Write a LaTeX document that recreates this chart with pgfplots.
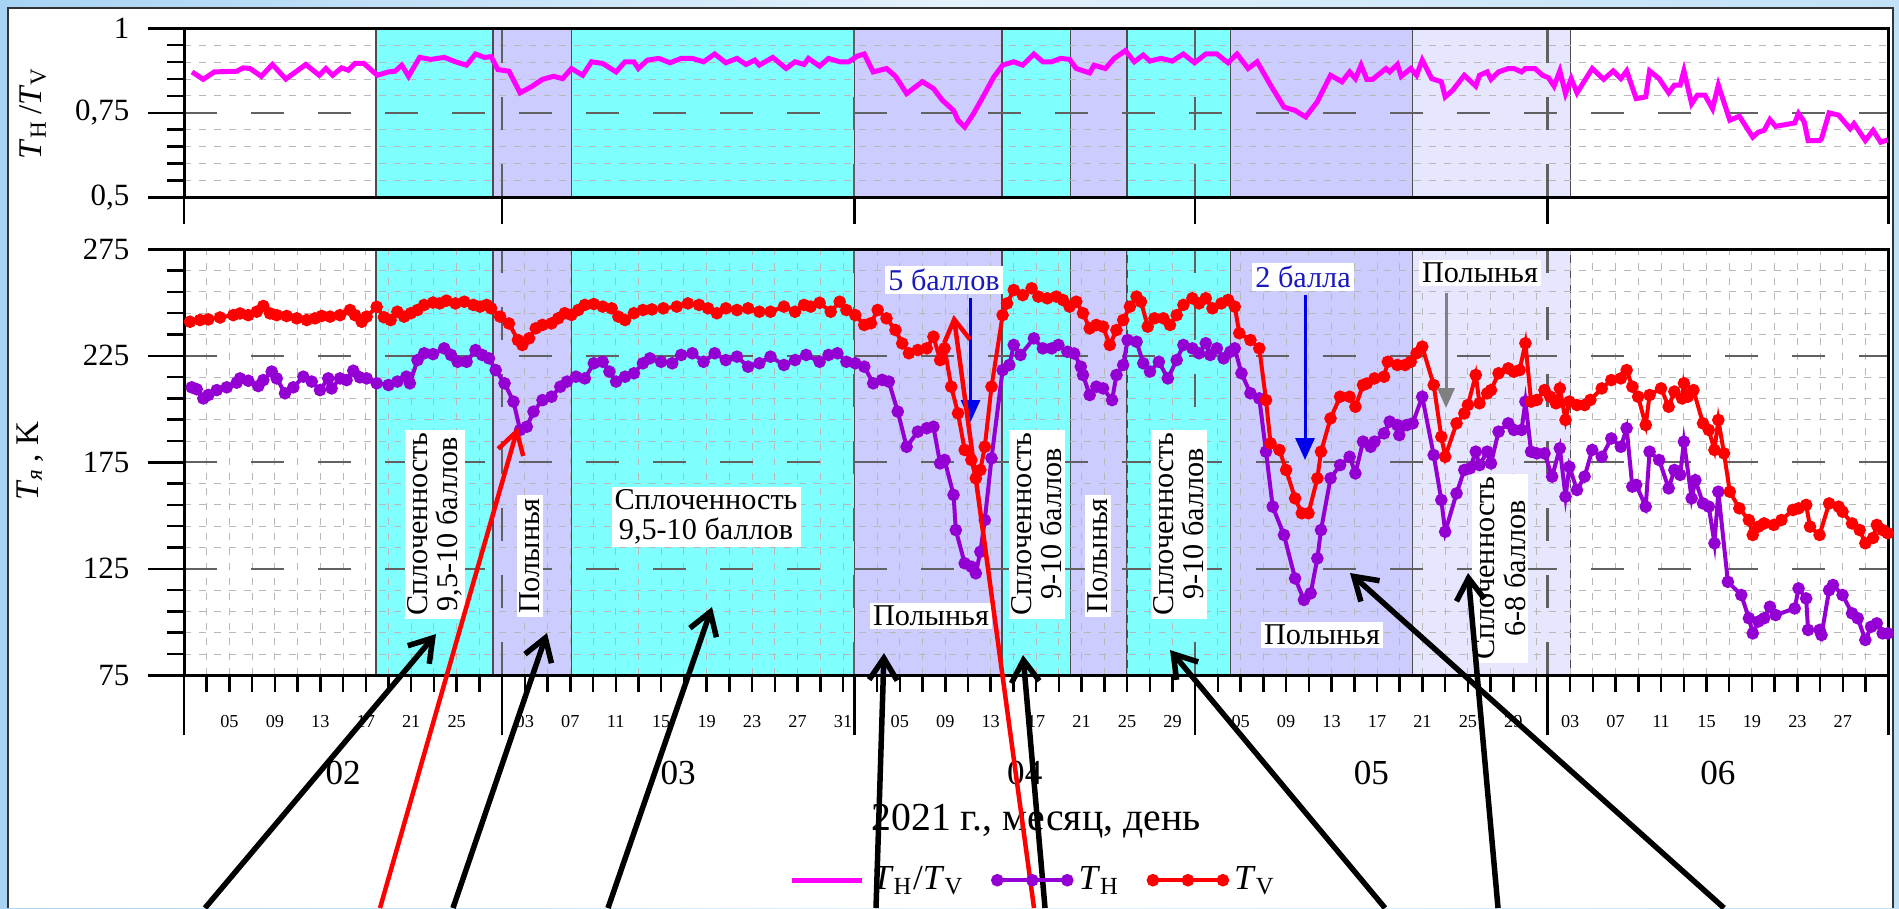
\documentclass[border=0pt]{standalone}
\usepackage{fontspec}
\setmainfont{Liberation Serif}
\usepackage{pgfplots}
\pgfplotsset{compat=1.18}
\usetikzlibrary{arrows.meta}

\definecolor{cyanreg}{RGB}{128,255,255}
\definecolor{purpreg}{RGB}{204,204,255}
\definecolor{lpurpreg}{RGB}{230,230,255}
\definecolor{tvc}{RGB}{255,0,0}
\definecolor{thc}{RGB}{148,0,211}
\definecolor{ratioc}{RGB}{255,0,255}
\definecolor{bluetxt}{RGB}{25,25,190}
\definecolor{bluearr}{RGB}{0,0,235}
\definecolor{bgl}{RGB}{168,212,244}
\definecolor{bgm}{RGB}{228,242,252}
\definecolor{bgr}{RGB}{192,225,247}

\newcommand\oneregion[3]{%
\addplot[forget plot, on layer=axis background, fill=#1, draw=black!70, line width=0.12mm]
 coordinates {(#2,\rymin)(#2,\rymax)(#3,\rymax)(#3,\rymin)(#2,\rymin)};}
\newcommand\regions{%
\oneregion{cyanreg}{16.9}{27.2}%
\oneregion{purpreg}{27.2}{34.1}%
\oneregion{cyanreg}{34.1}{59}%
\oneregion{purpreg}{59}{72}%
\oneregion{cyanreg}{72}{78}%
\oneregion{purpreg}{78}{83}%
\oneregion{cyanreg}{83}{92.1}%
\oneregion{purpreg}{92.1}{108.1}%
\oneregion{lpurpreg}{108.1}{122}}

\pgfplotsset{
  base/.style={
    scale only axis, width=170.43mm, xmin=0, xmax=150, clip=false,
    axis line style={line width=0.3mm, black},
    tick align=outside, tick pos=left,
    major tick length=3.6mm, minor tick length=1.7mm,
    tick style={black, line width=0.25mm},
    minor xtick={2,4,6,8,10,12,14,16,18,20,22,24,26,30,32,34,36,38,40,42,44,46,48,50,52,54,56,58,61,63,65,67,69,71,73,75,77,79,81,83,85,87,91,93,95,97,99,101,103,105,107,109,111,113,115,117,119,122,124,126,128,130,132,134,136,138,140,142,144,146,148},
    minor y tick num=4,
    xmajorgrids=false, xminorgrids=true, ymajorgrids=true, yminorgrids=true,
    major grid style={dash pattern=on 3.3mm off 3.4mm, black!62, line width=0.22mm},
    minor grid style={dash pattern=on 0.7mm off 0.8mm, black!28, line width=0.1mm},
    extra x ticks={0,28,59,89,120,150},
    extra x tick labels={},
    yticklabel style={font=\fontsize{8.8}{9}\selectfont, inner sep=0pt, xshift=-1.8mm},
  },
}

\begin{document}
\begin{tikzpicture}
\pgfplotsset{set layers}
\begin{pgfonlayer}{axis background}
\begin{scope}[x=0.1mm,y=-0.1mm]
\shade[left color=bgl, right color=bgr, middle color=bgm] (0,0) rectangle (1899,908);
\fill[white] (8,8) rectangle (1893,908);
\draw[black!80, line width=0.25mm] (8,908) -- (8,8) -- (1893,8) -- (1893,908);
\end{scope}
\end{pgfonlayer}

% ---------------- top panel: ratio
\begin{axis}[base, at={(18.4mm,-19.73mm)}, anchor=south west, height=16.9mm,
  ymin=0.5, ymax=1, ytick={0.5,0.75,1}, yticklabels={{0,5},{0,75},{1}},
  xtick=\empty,
  extra x tick style={major tick length=2.7mm, grid=major}]
\def\rymin{0.5}\def\rymax{1}
\regions
\addplot[ratioc, line width=0.5mm] coordinates {
(0.71,0.871)(1.69,0.849)(2.67,0.871)(4.64,0.873)(5.22,0.883)(5.81,0.881)(6.8,0.858)(7.78,0.893)(8.96,0.850)(10.72,0.893)(11.9,0.861)(12.49,0.881)(13.08,0.861)(13.87,0.883)(14.46,0.876)(15.05,0.896)(15.83,0.896)(17.01,0.861)(17.99,0.871)(18.58,0.873)(19.17,0.891)(19.76,0.858)(20.74,0.914)(21.73,0.908)(22.91,0.914)(23.89,0.901)(24.87,0.891)(25.66,0.924)(26.44,0.914)(27.03,0.916)(27.62,0.878)(28.6,0.873)(29.58,0.809)(30.57,0.827)(31.55,0.849)(32.53,0.858)(33.32,0.851)(34.1,0.881)(35.09,0.861)(35.87,0.901)(36.85,0.896)(38.03,0.871)(38.82,0.901)(39.6,0.901)(39.99,0.881)(40.79,0.906)
(41.8,0.911)(42.78,0.898)(43.76,0.911)(44.74,0.911)(45.73,0.901)(46.71,0.924)(47.69,0.898)(48.67,0.911)(49.46,0.893)(50.24,0.906)(50.64,0.891)(51.82,0.914)(53.0,0.881)(53.78,0.901)(54.57,0.893)(54.96,0.911)(55.94,0.888)(56.73,0.911)(57.71,0.901)(58.5,0.901)(59.28,0.918)(59.87,0.924)(60.66,0.871)(61.83,0.881)(62.62,0.858)(63.6,0.807)(64.98,0.842)(65.96,0.822)(66.75,0.787)(67.73,0.757)(68.12,0.728)(68.71,0.708)(69.5,0.748)(70.48,0.807)(71.27,0.856)(72.05,0.891)(73.03,0.901)(73.82,0.891)(74.8,0.924)(75.59,0.901)(76.37,0.901)(77.16,0.911)(77.94,0.908)(78.53,0.881)(79.71,0.868)(80.1,0.891)(81.09,0.881)(81.87,0.911)(82.86,0.934)(83.64,0.901)(84.43,0.921)(85.02,0.903)(86.0,0.911)(86.98,0.903)(87.96,0.924)(88.95,0.898)(89.93,0.924)(90.91,0.924)(91.89,0.898)(92.68,0.924)(93.66,0.881)(94.45,0.901)(95.63,0.832)(96.81,0.767)(97.79,0.757)
(98.22,0.748)(98.72,0.738)(99.73,0.782)(100.91,0.861)(101.92,0.842)(102.59,0.871)(103.1,0.851)(103.6,0.891)(104.1,0.849)(104.61,0.849)(105.79,0.881)(106.12,0.871)(106.79,0.893)(107.13,0.858)(107.97,0.881)(108.48,0.861)(108.98,0.906)(109.82,0.851)(110.66,0.842)(111.0,0.797)(111.67,0.817)(112.68,0.861)(113.69,0.829)(114.02,0.861)(114.7,0.871)(115.03,0.849)(115.7,0.871)(116.55,0.881)(117.05,0.881)(117.72,0.871)(118.06,0.881)(118.9,0.881)(119.57,0.861)(120.08,0.854)(120.58,0.829)(121.09,0.874)(121.59,0.807)(122.09,0.851)(122.6,0.809)(123.94,0.881)(124.95,0.849)(125.79,0.874)(126.46,0.851)(126.97,0.874)(127.81,0.792)(128.65,0.797)(128.99,0.874)(129.83,0.851)(130.67,0.809)(131.17,0.832)(131.68,0.832)(132.01,0.874)(132.69,0.777)(133.19,0.802)(133.86,0.802)(134.53,0.762)(135.04,0.832)(136.05,0.728)(136.89,0.740)(138.07,0.678)(138.57,0.693)(139.07,0.698)(139.58,0.730)(140.08,0.710)(141.76,0.720)(142.1,0.748)(142.6,0.723)(142.94,0.668)(143.95,0.668)(144.12,0.673)(144.79,0.750)(145.63,0.743)(146.64,0.703)(146.98,0.718)(147.98,0.668)(148.66,0.698)(149.33,0.663)(149.95,0.670)};
\end{axis}

% ---------------- bottom panel: temperatures
\begin{axis}[base, at={(18.4mm,-67.53mm)}, anchor=south west, height=42.6mm,
  ymin=75, ymax=275, ytick={75,125,175,225,275}, yticklabels={75,125,175,225,275},
  xtick={4,8,12,16,20,24,30,34,38,42,46,50,54,58,63,67,71,75,79,83,87,93,97,101,105,109,113,117,122,126,130,134,138,142,146},
  xticklabels={05,09,13,17,21,25,03,07,11,15,19,23,27,31,05,09,13,17,21,25,29,05,09,13,17,21,25,29,03,07,11,15,19,23,27},
  major x tick style={draw=none},
  xticklabel style={font=\fontsize{5.2}{6}\selectfont, inner sep=0pt, yshift=-0.3mm},
  extra x tick style={major tick length=6mm, grid=major, major x tick style={draw=black}},
  legend style={at={(0.5,-0.481)}, anchor=center, draw=none, fill=none,
    font=\fontsize{10}{11}\selectfont, legend columns=3,
    /tikz/every even column/.append style={column sep=2.2mm}},
  legend cell align=left,
  legend image code/.code={\draw[#1, mark repeat=1] plot coordinates {(0mm,0mm)(3.5mm,0mm)(7mm,0mm)};}]
\def\rymin{75}\def\rymax{275}
\regions
\addlegendimage{ratioc, line width=0.5mm}
\addlegendentry{\textit{T}\textsubscript{Н}/\textit{T}\textsubscript{V}}
\addplot[thc, line width=0.4mm, mark=*, mark size=0.42mm] coordinates {
(0.68,210.2)(1.12,209.3)(1.7,205.0)(2.14,206.6)(2.88,208.9)(3.76,210.2)(4.64,212.4)(4.93,214.4)(5.66,213.3)(6.54,210.8)(6.98,213.6)(7.72,217.6)(8.16,214.4)(8.89,207.4)(9.62,210.2)(10.5,215.2)(11.24,212.9)(11.97,208.9)(12.7,214.4)(12.99,209.7)(13.73,214.4)(14.31,213.6)(14.9,218.0)(15.48,214.9)(16.08,214.4)(16.96,212.1)
(18.0,211.3)(18.78,212.9)(19.57,215.2)(19.88,212.1)(20.55,223.0)(21.14,226.2)(21.92,225.8)(22.9,228.5)(23.5,225.4)(24.08,222.2)(24.87,222.2)(25.66,227.7)(26.25,225.4)(26.84,223.8)(27.43,218.3)(28.21,212.1)(29.0,203.5)(29.58,190.2)(30.17,191.7)(30.76,198.8)(31.55,204.2)(32.34,205.8)(33.12,210.5)(33.71,212.9)(34.5,215.2)(35.28,214.4)(36.07,221.5)(36.85,222.2)(37.44,217.6)(38.03,212.9)(38.82,215.2)(39.6,216.8)(40.39,221.5)
(41.0,223.8)(41.99,222.2)(42.97,221.5)(43.76,225.4)(44.74,226.2)(45.73,222.2)(46.71,226.2)(47.69,223.0)(48.67,224.6)(49.65,219.9)(50.64,221.5)(51.62,224.6)(52.8,220.7)(53.78,223.0)(54.76,225.4)(55.94,222.2)(56.73,225.4)(57.51,226.2)(58.3,222.2)(59.08,221.5)(59.87,219.9)(60.66,212.1)(61.44,213.7)(62.03,212.9)(62.82,198.8)(63.6,182.3)(64.59,189.4)(65.37,191.0)(65.96,191.7)(66.55,174.5)(66.94,176.1)(67.73,159.7)(67.93,143.2)(68.71,127.6)(69.3,126.0)(69.69,122.9)(70.09,133.0)(70.48,147.9)(71.07,176.9)(72.05,218.3)(72.64,220.7)(73.03,230.1)(73.62,225.4)(74.8,233.2)(75.59,228.5)(76.37,228.5)(76.96,230.1)(77.75,226.9)(78.34,226.1)(78.93,219.9)(79.12,216.0)(79.71,206.6)(80.3,210.5)(80.89,209.7)(81.68,204.2)(82.07,216.0)(82.66,220.7)(83.05,232.4)(83.84,231.6)(84.43,221.5)(85.02,217.6)(85.8,222.2)(86.59,214.4)(87.37,223.0)(87.96,230.1)(88.75,228.5)(89.34,226.2)(89.93,230.9)(90.32,225.4)(90.91,228.5)(91.5,223.8)(92.09,226.9)(92.48,228.5)(93.07,216.8)(93.86,207.4)(94.64,205.0)(95.23,180.0)(95.82,154.2)(96.81,140.9)(97.79,120.5)(98.57,110.4)(99.16,113.5)(99.75,129.9)
(100.07,143.2)(100.91,167.5)(101.75,173.7)(102.59,177.6)(103.1,169.8)(103.77,184.7)(104.44,182.3)(104.78,184.7)(105.62,188.6)(106.12,194.1)(106.79,192.5)(106.96,187.8)(107.63,192.5)(108.14,193.3)(108.98,205.8)(109.99,178.4)(110.66,157.3)(111.0,142.4)(112.0,160.4)(112.68,171.4)(113.18,172.2)(113.69,180.0)(114.02,173.7)(114.7,180.0)(115.03,174.5)(115.7,189.4)(116.55,193.3)(117.05,190.2)(117.72,190.2)(118.06,203.5)(118.56,180.0)(119.07,179.2)(119.74,179.2)(120.41,168.3)(121.09,181.6)(121.59,158.9)(121.93,172.9)(122.6,162.0)(123.27,168.3)(123.94,180.8)(124.78,177.6)(125.62,186.2)(126.46,182.3)(126.97,191.0)(127.47,163.6)(127.81,164.4)(128.65,154.2)(128.99,180.0)(129.83,176.1)(130.67,162.8)(131.17,171.4)(131.68,169.1)(132.01,184.7)(132.69,158.1)(133.02,166.6)(133.69,155.7)(134.2,154.2)(134.7,137.0)(135.04,161.2)(135.88,118.9)(137.06,112.7)(137.73,101.8)(138.07,94.7)(138.57,100.3)(139.07,101.8)(139.58,107.2)(140.08,103.3)(141.76,106.4)(142.1,115.8)(142.77,111.1)(142.94,96.3)(143.95,96.3)(144.12,93.9)(144.79,115.0)(145.13,117.4)(145.97,112.7)(146.81,104.1)(147.31,101.8)(147.98,91.6)(148.49,97.8)(148.99,99.4)(149.5,94.7)(149.95,94.7)};
\addlegendentry{\textit{T}\textsubscript{Н}}
\addplot[tvc, line width=0.4mm, mark=*, mark size=0.42mm] coordinates {
(0.53,241.0)(1.41,241.8)(2.14,242.1)(3.17,243.0)(4.34,244.1)(4.93,244.9)(5.66,244.1)(6.4,245.7)(6.98,248.4)(7.57,244.9)(8.16,244.1)(9.04,243.7)(9.92,242.6)(10.8,241.8)(11.53,242.6)(12.12,243.7)(12.85,243.4)(13.73,244.1)(14.61,246.5)(15.05,244.1)(15.64,241.0)(16.08,243.4)(16.96,248.0)
(17.6,243.1)(18.19,241.8)(18.78,245.7)(19.37,243.4)(19.96,245.0)(20.55,246.5)(21.14,248.9)(21.92,250.0)(22.51,249.6)(23.1,250.9)(23.89,249.6)(24.67,250.4)(25.46,248.9)(26.05,248.1)(26.64,248.9)(27.03,247.3)(27.82,243.4)(28.6,240.2)(29.39,232.4)(29.78,230.1)(30.37,233.2)(30.96,237.9)(31.55,239.5)(32.34,240.2)(32.93,242.6)(33.51,245.0)(34.1,244.2)(34.7,246.5)(35.28,248.9)(36.07,249.3)(36.85,248.1)(37.64,247.3)(38.23,243.4)(38.82,241.8)(39.6,245.0)(40.39,246.5)(41.18,246.8)
(42.19,247.3)(43.37,248.1)(44.35,249.6)(45.33,248.9)(46.12,247.3)(46.9,245.0)(47.69,247.3)(48.67,246.5)(49.65,247.3)(50.64,245.7)(51.62,245.7)(52.8,248.1)(53.78,245.7)(54.57,248.9)(55.16,248.1)(55.94,249.9)(56.92,245.7)(57.71,250.4)(58.3,246.5)(59.08,244.1)(59.87,239.5)(60.46,240.3)(61.05,246.5)(61.83,242.6)(62.62,237.1)(63.21,230.8)(63.8,226.2)(64.58,227.7)(65.37,228.5)(65.96,234.0)(66.55,223.0)(66.94,228.5)(67.53,210.5)(68.12,198.0)(68.71,180.8)(69.3,176.1)(69.69,167.5)(70.09,171.4)(70.48,182.3)(71.07,210.5)(72.05,244.1)(72.44,249.6)(73.03,255.9)(73.82,253.5)(74.6,256.7)(75.19,252.8)(75.98,252.0)(76.77,252.8)(77.36,251.2)(77.94,248.1)(78.53,250.4)(79.12,245.0)(79.71,237.9)(80.3,239.5)(80.89,238.7)(81.48,230.1)(82.07,237.1)(82.66,241.8)(83.25,248.1)(83.84,252.8)(84.23,250.4)(84.82,238.7)(85.41,242.6)(86.2,242.6)(86.78,239.5)(87.37,244.1)(87.96,248.9)(88.75,252.0)(89.34,249.6)(89.93,252.0)(90.52,247.3)(91.3,249.6)(91.89,251.2)(92.48,248.1)(92.88,235.6)(93.86,232.4)(94.64,228.5)(95.23,204.2)(95.63,183.9)(96.41,180.8)(97.0,171.4)(97.79,158.1)(98.38,151.1)(98.97,151.1)(99.75,167.5)
(100.07,180.0)(100.91,195.6)(101.75,205.8)(102.59,205.8)(103.1,201.1)(103.77,211.3)(104.1,212.0)(104.78,214.4)(105.62,215.2)(105.95,222.2)(106.79,220.7)(107.47,220.7)(107.97,222.2)(108.48,226.2)(108.98,229.3)(109.99,211.3)(110.66,187.0)(111.0,177.6)(112.0,193.3)(112.68,198.0)(113.0,201.9)(113.69,216.0)(114.02,202.7)(114.7,207.4)(115.03,208.9)(115.7,216.8)(116.55,219.1)(117.05,217.5)(117.55,218.3)(118.06,230.9)(118.56,203.5)(119.07,204.3)(119.74,208.9)(120.24,205.8)(120.75,202.7)(121.09,209.7)(121.59,194.9)(121.93,203.5)(122.6,201.9)(123.27,201.9)(123.78,204.3)(124.78,209.7)(125.62,213.6)(126.46,214.4)(126.97,218.3)(127.47,210.5)(127.98,205.8)(128.65,192.5)(128.99,206.6)(130.0,209.7)(130.67,201.1)(131.17,208.2)(131.85,205.0)(132.01,212.1)(132.35,205.8)(132.85,208.9)(133.69,193.3)(134.2,190.2)(134.7,180.8)(135.04,194.9)(135.54,179.2)(136.05,161.2)(136.89,153.4)(137.73,147.9)(138.07,140.9)(138.57,144.8)(139.07,146.3)(139.92,145.6)(140.59,147.9)(141.6,152.6)(142.1,153.4)(142.77,155.0)(143.11,144.8)(143.95,140.9)(144.79,155.7)(145.63,154.2)(145.97,151.8)(146.81,146.3)(147.48,143.2)(147.98,137.0)(148.66,139.5)(148.99,145.6)(149.5,143.2)(149.95,141.7)};
\addlegendentry{\textit{T}\textsubscript{V}}
\end{axis}

% ---------------- annotations (pixel coordinates of the figure)
\begin{scope}[x=0.1mm,y=-0.1mm]
\tikzset{tbox/.style={fill=white, inner sep=0.3mm, font=\fontsize{8.6}{8.6}\selectfont, align=center},
  blk/.style={draw=black, line width=0.55mm, -{Straight Barb[length=2.2mm,width=2.8mm]}},
  redl/.style={draw=tvc, line width=0.45mm, -{Straight Barb[length=2.2mm,width=2.6mm]}}}
\node[rotate=90, font=\fontsize{9.4}{10}\selectfont] at (33,113) {\textit{T}\textsubscript{Н}\,/\textit{T}\textsubscript{V}};
\node[rotate=90, font=\fontsize{9.4}{10}\selectfont] at (30,461) {\textit{T}\textsubscript{\textit{я}}\,, K};
\foreach \xx/\mm in {343.1/02, 678.2/03, 1024.8/04, 1371.3/05, 1717.9/06}
  \node[font=\fontsize{10}{11}\selectfont] at (\xx,772.7) {\mm};
\node[font=\fontsize{11.3}{12}\selectfont, anchor=base] at (1036,830) {2021 г., месяц, день};
\node[tbox, rotate=90] at (435,524) {Сплоченность\\9,5-10 баллов};
\node[tbox, rotate=90] at (530,556) {Полынья};
\node[tbox] at (706,517) {Сплоченность\\9,5-10 баллов};
\node[tbox] at (931,616) {Полынья};
\node[tbox, rotate=90] at (1037,524) {Сплоченность\\9-10 баллов};
\node[tbox, rotate=90] at (1098,556) {Полынья};
\node[tbox, rotate=90] at (1179,524) {Сплоченность\\9-10 баллов};
\node[tbox] at (1322,635) {Полынья};
\node[tbox, rotate=90] at (1500,568) {Сплоченность\\6-8 баллов};
\node[tbox, text=bluetxt] at (944,280) {5 баллов};
\node[tbox, text=bluetxt] at (1303,277) {2 балла};
\node[tbox] at (1480,273) {Полынья};
\draw[bluearr, line width=0.3mm, -{Triangle[length=2.2mm,width=1.9mm]}] (970.5,298) -- (970.5,422);
\draw[bluearr, line width=0.3mm, -{Triangle[length=2.2mm,width=1.9mm]}] (1305,295) -- (1305,460);
\draw[black!50, line width=0.3mm, -{Triangle[length=2mm,width=1.7mm]}] (1446,293) -- (1446,408);
\draw[redl] (380,908) -- (518,427);
\draw[redl] (1034,908) -- (953.6,315);
\draw[blk] (205,908) -- (436,634);
\draw[blk] (453,908) -- (547,633);
\draw[blk] (608,908) -- (712,607);
\draw[blk] (876,908) -- (884,653);
\draw[blk] (1045,908) -- (1023,655);
\draw[blk] (1385,908) -- (1170,650);
\draw[blk] (1498,908) -- (1468,573);
\draw[blk] (1724,908) -- (1350,573);
\end{scope}
\pgfresetboundingbox
\path (0,0) rectangle (189.9mm,-90.8mm);
\end{tikzpicture}
\end{document}
